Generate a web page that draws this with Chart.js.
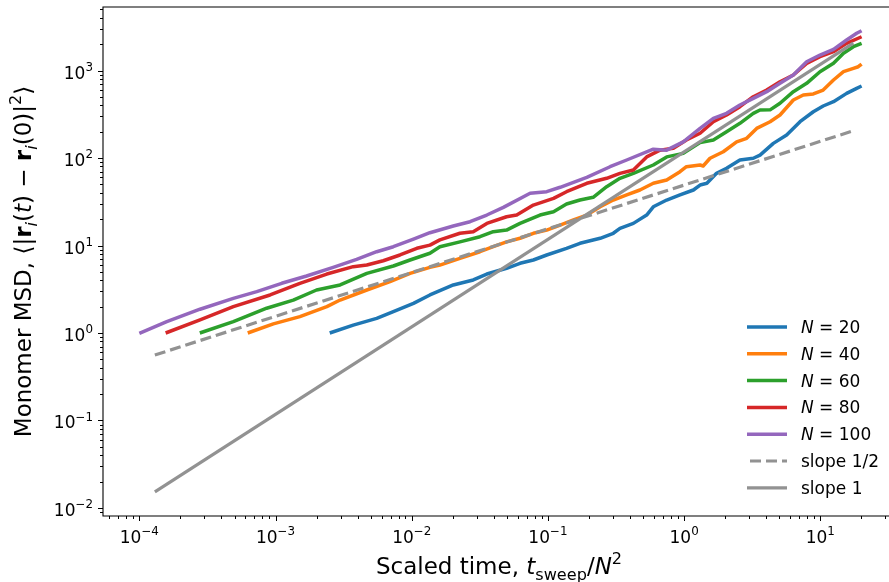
<!DOCTYPE html>
<html>
<head>
<meta charset="utf-8">
<script src="https://cdn.jsdelivr.net/npm/chart.js@4"></script>
<style>
  html, body { margin: 0; padding: 0; background: #fff; overflow: hidden; }
  canvas { display: block; }
</style>
</head>
<body>
<canvas id="msd" width="889" height="582"></canvas>
<script>
// monomer MSD vs scaled time t_sweep / N^2, one curve per chain length
const tN20 = [2.5e-3, 3.72e-3, 5.53e-3, 7.33e-3, 1.03e-2, 1.36e-2, 2.02e-2, 2.83e-2, 3.56e-2, 4.97e-2, 6.24e-2, 7.82e-2, 9.80e-2, 0.137, 0.172, 0.242, 0.302, 0.338, 0.424, 0.531, 0.594, 0.745, 0.933, 1.17, 1.31, 1.47, 1.73, 2.05, 2.57, 3.22, 3.61, 4.52, 5.66, 7.10, 8.89, 10.5, 12.5, 15.6, 18.5, 20.1];
const msdN20 = [1.0, 1.23, 1.47, 1.75, 2.18, 2.72, 3.54, 4.04, 4.72, 5.49, 6.26, 6.83, 7.79, 9.29, 10.6, 12.1, 13.8, 15.7, 17.9, 22.3, 27.7, 33.1, 37.8, 43.1, 49.1, 51.4, 66.8, 76.2, 94.9, 99.3, 108, 147, 183, 260, 338, 393, 440, 548, 626, 665];

const tN40 = [6.25e-4, 9.64e-4, 1.51e-3, 2.38e-3, 2.98e-3, 4.68e-3, 6.93e-3, 9.72e-3, 1.36e-2, 1.61e-2, 2.26e-2, 3.17e-2, 3.97e-2, 4.97e-2, 6.24e-2, 7.82e-2, 9.80e-2, 0.123, 0.154, 0.193, 0.242, 0.302, 0.379, 0.474, 0.594, 0.745, 0.933, 1.04, 1.31, 1.38, 1.55, 1.94, 2.43, 2.88, 3.41, 4.28, 5.06, 6.34, 7.50, 8.89, 10.5, 12.5, 14.8, 17.5, 19.0, 20.1];
const msdN40 = [1.0, 1.27, 1.54, 2.00, 2.38, 3.10, 3.86, 4.81, 5.63, 5.98, 7.14, 8.49, 9.69, 11.0, 12.1, 13.8, 15.0, 17.1, 19.6, 22.3, 27.7, 33.1, 37.8, 43.1, 51.4, 56.1, 69.7, 79.5, 83.2, 81.1, 99.3, 118, 153, 168, 218, 260, 310, 460, 525, 539, 598, 779, 969, 1059, 1105, 1186];

const tN60 = [2.78e-4, 4.90e-4, 8.61e-4, 1.35e-3, 2.00e-3, 2.98e-3, 4.68e-3, 7.33e-3, 9.72e-3, 1.36e-2, 1.61e-2, 2.26e-2, 3.17e-2, 3.97e-2, 4.97e-2, 6.24e-2, 8.75e-2, 0.110, 0.137, 0.172, 0.215, 0.270, 0.338, 0.424, 0.594, 0.745, 0.986, 1.31, 1.64, 2.05, 2.57, 3.22, 3.61, 4.28, 5.06, 6.34, 7.94, 9.95, 12.5, 14.8, 17.5, 20.1];
const msdN60 = [1.0, 1.35, 1.92, 2.38, 3.10, 3.54, 4.81, 5.83, 6.83, 8.15, 9.69, 11.0, 12.6, 14.4, 15.0, 17.9, 22.3, 24.3, 29.8, 33.1, 35.6, 47.0, 58.6, 66.8, 83.2, 103, 113, 150, 161, 200, 249, 324, 354, 355, 422, 573, 714, 969, 1208, 1574, 1871, 2047];

const tN80 = [1.56e-4, 2.79e-4, 4.90e-4, 9.12e-4, 1.51e-3, 2.38e-3, 3.72e-3, 4.68e-3, 6.18e-3, 8.20e-3, 1.09e-2, 1.36e-2, 1.61e-2, 2.26e-2, 2.83e-2, 3.56e-2, 4.97e-2, 5.90e-2, 7.82e-2, 0.110, 0.137, 0.193, 0.270, 0.338, 0.424, 0.531, 0.665, 0.834, 1.04, 1.31, 1.64, 2.05, 2.57, 3.22, 4.04, 5.06, 6.34, 7.94, 9.95, 12.5, 15.6, 20.1];
const msdN80 = [1.0, 1.41, 2.00, 2.72, 3.70, 4.72, 5.73, 5.98, 6.70, 7.79, 9.29, 10.1, 11.6, 13.8, 14.4, 17.9, 21.3, 22.3, 29.0, 34.6, 41.2, 51.4, 58.6, 66.8, 72.9, 103, 123, 129, 161, 192, 260, 310, 386, 502, 598, 745, 889, 1208, 1438, 1641, 2047, 2432];

const tN100 = [1.0e-4, 1.59e-4, 2.79e-4, 4.90e-4, 7.28e-4, 1.11e-3, 1.69e-3, 2.65e-3, 3.94e-3, 5.53e-3, 7.33e-3, 1.03e-2, 1.36e-2, 2.02e-2, 2.68e-2, 3.56e-2, 4.71e-2, 7.40e-2, 9.80e-2, 0.123, 0.193, 0.286, 0.379, 0.594, 0.745, 0.986, 1.31, 1.64, 2.05, 2.57, 3.22, 4.04, 5.06, 6.34, 7.94, 9.95, 12.5, 15.6, 18.5, 20.1];
const msdN100 = [0.99, 1.35, 1.87, 2.49, 2.97, 3.70, 4.48, 5.63, 6.95, 8.49, 9.69, 11.8, 14.0, 16.7, 18.7, 22.3, 27.3, 39.5, 41.2, 46.3, 60.2, 79.5, 94.9, 126, 123, 153, 218, 284, 324, 403, 481, 573, 714, 889, 1261, 1503, 1746, 2233, 2661, 2851];

// reference power laws
const guideT = [1.3e-4, 17.5];
const slopeHalf = [0.56, 205];
const slopeOne = [0.0153, 2060];

const chainLengths = [20, 40, 60, 80, 100];
const seriesT = [tN20, tN40, tN60, tN80, tN100];
const seriesMsd = [msdN20, msdN40, msdN60, msdN80, msdN100];
const colors = ['#1f77b4', '#ff7f0e', '#2ca02c', '#d62728', '#9467bd'];
const guideColor = '#929292';

const xTickExp = [-4, -3, -2, -1, 0, 1];
const yTickExp = [-2, -1, 0, 1, 2, 3];

const FONT = '"DejaVu Sans"';

function pts(xs, ys) {
  return xs.map((x, i) => ({ x, y: ys[i] }));
}

const datasets = chainLengths.map((n, i) => ({
  label: 'N = ' + n,
  data: pts(seriesT[i], seriesMsd[i]),
  borderColor: colors[i],
  borderWidth: 3.5,
  order: 10 - i
}));
datasets.push({
  label: 'slope 1/2',
  data: pts(guideT, slopeHalf),
  borderColor: guideColor,
  borderWidth: 3.2,
  borderDash: [11, 5],
  order: 2
});
datasets.push({
  label: 'slope 1',
  data: pts(guideT, slopeOne),
  borderColor: guideColor,
  borderWidth: 3.2,
  order: 1
});

function fontOf(p, size) {
  const sz = (p.sub || p.sup) ? size * 0.7 : size;
  return (p.i ? 'italic ' : '') + (p.b ? 'bold ' : '') + sz + 'px ' + FONT;
}

// draws a run of text pieces (regular / italic / bold / sub / sup) on one baseline
function drawMath(ctx, parts, x, y, size, align) {
  let w = 0;
  parts.forEach(p => { ctx.font = fontOf(p, size); w += ctx.measureText(p.s).width; });
  let cx = align === 'center' ? x - w / 2 : align === 'right' ? x - w : x;
  ctx.textAlign = 'left';
  ctx.textBaseline = 'alphabetic';
  parts.forEach(p => {
    ctx.font = fontOf(p, size);
    const dy = p.sub ? size * 0.24 : p.sup ? -size * 0.45 : 0;
    ctx.fillText(p.s, cx, y + dy);
    cx += ctx.measureText(p.s).width;
  });
}

function powLabel(e) {
  return [{ s: '10' }, { s: e < 0 ? '\u2212' + (-e) : String(e), sup: true }];
}

const axesDecor = {
  id: 'axesDecor',
  afterDraw(chart) {
    const ctx = chart.ctx;
    const a = chart.chartArea;
    const xs = chart.scales.x, ys = chart.scales.y;
    ctx.save();
    ctx.strokeStyle = '#000';
    ctx.fillStyle = '#000';

    // spines: the right one sits just past the canvas edge
    ctx.lineWidth = 1.1;
    ctx.beginPath();
    ctx.moveTo(a.right + 2, a.top);
    ctx.lineTo(a.left, a.top);
    ctx.lineTo(a.left, a.bottom);
    ctx.lineTo(a.right + 2, a.bottom);
    ctx.stroke();

    // log ticks, major at decades
    ctx.lineWidth = 1;
    ctx.beginPath();
    for (let d = -6; d <= 4; d++) {
      for (let k = 1; k <= 9; k++) {
        const v = k * Math.pow(10, d);
        const len = k === 1 ? 5 : 3;
        if (v >= xs.min && v <= xs.max) {
          const px = Math.round(xs.getPixelForValue(v)) + 0.5;
          ctx.moveTo(px, a.bottom);
          ctx.lineTo(px, a.bottom + len);
        }
        if (v >= ys.min && v <= ys.max) {
          const py = Math.round(ys.getPixelForValue(v)) + 0.5;
          ctx.moveTo(a.left, py);
          ctx.lineTo(a.left - len, py);
        }
      }
    }
    ctx.stroke();

    xTickExp.forEach(e => {
      drawMath(ctx, powLabel(e), xs.getPixelForValue(Math.pow(10, e)), a.bottom + 27, 17, 'center');
    });
    yTickExp.forEach(e => {
      drawMath(ctx, powLabel(e), a.left - 10, ys.getPixelForValue(Math.pow(10, e)) + 8, 17, 'right');
    });

    // axis titles
    drawMath(ctx, [
      { s: 'Scaled time, ' }, { s: 't', i: true }, { s: 'sweep', sub: true },
      { s: '/' }, { s: 'N', i: true }, { s: '2', sup: true }
    ], 499, 574, 23, 'center');

    ctx.save();
    ctx.translate(31, (a.top + a.bottom) / 2);
    ctx.rotate(-Math.PI / 2);
    drawMath(ctx, [
      { s: 'Monomer MSD, \u27E8|' }, { s: 'r', b: true }, { s: 'i', i: true, sub: true },
      { s: '(' }, { s: 't', i: true }, { s: ') \u2212 ' }, { s: 'r', b: true },
      { s: 'i', i: true, sub: true }, { s: '(0)|' }, { s: '2', sup: true }, { s: '\u27E9' }
    ], 0, 0, 23, 'center');
    ctx.restore();

    // legend, lower right inside the axes
    const lx = 747, ly = 327, row = 26.8;
    chart.data.datasets.forEach((ds, i) => {
      const y = ly + i * row;
      ctx.strokeStyle = ds.borderColor;
      ctx.lineWidth = ds.borderWidth;
      ctx.setLineDash(ds.borderDash || []);
      ctx.beginPath();
      ctx.moveTo(lx + (ds.borderDash ? 3 : 0), y);
      ctx.lineTo(lx + 40, y);
      ctx.stroke();
      ctx.setLineDash([]);
      ctx.fillStyle = '#000';
      const parts = ds.label.startsWith('N = ')
        ? [{ s: 'N', i: true }, { s: ' = ' + ds.label.slice(4) }]
        : [{ s: ds.label }];
      drawMath(ctx, parts, lx + 54, y + 6, 17, 'left');
    });
    ctx.restore();
  }
};

new Chart(document.getElementById('msd'), {
  type: 'line',
  data: { datasets },
  options: {
    responsive: false,
    animation: false,
    devicePixelRatio: 1,
    layout: { padding: { left: 103, top: 7, right: 0, bottom: 66 } },
    elements: {
      point: { radius: 0, hoverRadius: 0 },
      line: { tension: 0, borderJoinStyle: 'round' }
    },
    plugins: { legend: { display: false }, tooltip: { enabled: false } },
    scales: {
      x: { type: 'logarithmic', display: false, min: 5.41e-5, max: 31.95 },
      y: { type: 'logarithmic', display: false, min: 8.1e-3, max: 5320 }
    }
  },
  plugins: [axesDecor]
});
</script>
</body>
</html>
